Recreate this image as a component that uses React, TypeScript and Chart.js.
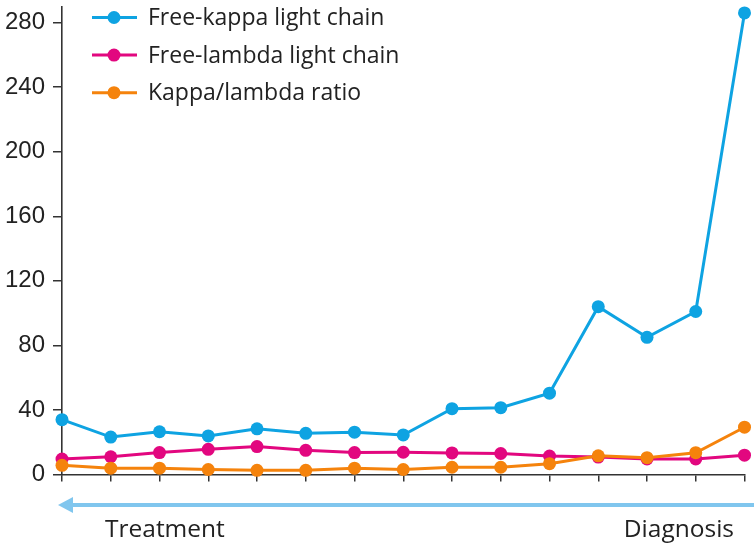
import React, { useEffect, useRef } from 'react';
import { Chart, registerables } from 'chart.js';

Chart.register(...registerables);

const timepoints = ['1', '2', '3', '4', '5', '6', '7', '8', '9', '10', '11', '12', '13', '14', '15'];
const freeKappa = [34, 23.2, 26.5, 23.9, 28.3, 25.5, 26.2, 24.5, 40.8, 41.4, 50.4, 104, 85, 101, 286];
const freeLambda = [9.6, 11.0, 13.6, 15.6, 17.3, 15.0, 13.6, 13.8, 13.4, 13.0, 11.4, 10.8, 9.6, 9.6, 12.0];
const kappaLambdaRatio = [5.7, 3.9, 3.9, 3.1, 2.6, 2.6, 3.9, 3.1, 4.5, 4.5, 6.7, 11.6, 10.4, 13.5, 29.3];
const yTickValues = [0, 40, 80, 120, 160, 200, 240, 280];
const seriesLabels = ['Free-kappa light chain', 'Free-lambda light chain', 'Kappa/lambda ratio'];
const seriesColors = ['#0ea3e2', '#e2077f', '#f5830c'];
const directionLabels = ['Treatment', 'Diagnosis'];

const TEXT_FONT = '"Open Sans", "Noto Sans", sans-serif';

const annotationPlugin = {
  id: 'annotations',
  afterDraw(chart: any) {
    const ctx = chart.ctx as CanvasRenderingContext2D;
    const area = chart.chartArea;
    ctx.save();
    // legend
    chart.data.datasets.forEach((ds: any, i: number) => {
      const y = 17.5 + i * 37.6;
      ctx.strokeStyle = ds.borderColor;
      ctx.lineWidth = 3;
      ctx.beginPath();
      ctx.moveTo(92, y);
      ctx.lineTo(137, y);
      ctx.stroke();
      ctx.fillStyle = ds.borderColor;
      ctx.beginPath();
      ctx.arc(114, y, 6.5, 0, Math.PI * 2);
      ctx.fill();
      ctx.fillStyle = '#222';
      ctx.font = `23px ${TEXT_FONT}`;
      ctx.textAlign = 'left';
      ctx.textBaseline = 'middle';
      ctx.fillText(ds.label, 148, y + 1);
    });
    // arrow
    const ay = 505;
    const arrowColor = '#80c6ee';
    ctx.strokeStyle = arrowColor;
    ctx.fillStyle = arrowColor;
    ctx.lineWidth = 4;
    ctx.beginPath();
    ctx.moveTo(70, ay);
    ctx.lineTo(chart.width, ay);
    ctx.stroke();
    ctx.beginPath();
    ctx.moveTo(area.left - 4, ay);
    ctx.lineTo(area.left + 11, ay - 8);
    ctx.lineTo(area.left + 11, ay + 8);
    ctx.closePath();
    ctx.fill();
    // direction labels
    ctx.fillStyle = '#222';
    ctx.font = `24.5px ${TEXT_FONT}`;
    ctx.textBaseline = 'alphabetic';
    ctx.textAlign = 'left';
    ctx.fillText(directionLabels[0], 105, 537);
    ctx.textAlign = 'right';
    ctx.fillText(directionLabels[1], 734, 537);
    ctx.restore();
  },
};

export default function App() {
  const canvasRef = useRef<HTMLCanvasElement | null>(null);

  useEffect(() => {
    document.body.style.margin = '0';
    const canvas = canvasRef.current;
    if (!canvas) return;
    const values = [freeKappa, freeLambda, kappaLambdaRatio];
    const orders = [1, 2, 0];
    const chart = new Chart(canvas, {
      type: 'line',
      data: {
        labels: timepoints,
        datasets: values.map((v, i) => ({
          label: seriesLabels[i],
          data: v,
          borderColor: seriesColors[i],
          backgroundColor: seriesColors[i],
          pointBackgroundColor: seriesColors[i],
          pointBorderWidth: 0,
          pointRadius: 6.5,
          borderWidth: 3,
          tension: 0,
          clip: false as any,
          order: orders[i],
        })),
      },
      options: {
        animation: false,
        responsive: false,
        maintainAspectRatio: false,
        layout: { padding: { left: 0, right: 9.5, top: 3, bottom: 64.5 } },
        plugins: {
          legend: { display: false },
          tooltip: { enabled: false },
        },
        scales: {
          x: {
            type: 'category',
            offset: false,
            ticks: { display: false },
            grid: {
              drawOnChartArea: false,
              drawTicks: true,
              tickLength: 7,
              color: '#333',
              lineWidth: 1.5,
            },
            border: { display: true, color: '#333', width: 1.6 },
            afterFit: (scale: any) => {
              scale.paddingLeft = 0;
              scale.paddingRight = 0;
            },
          },
          y: {
            min: 0,
            max: 290,
            afterBuildTicks: (scale: any) => {
              scale.ticks = yTickValues.map((v) => ({ value: v }));
            },
            afterFit: (scale: any) => {
              scale.width = 62;
              scale.paddingTop = 0;
              scale.paddingBottom = 0;
            },
            ticks: {
              padding: 8,
              color: '#222',
              font: { family: '"Liberation Sans", Arial, sans-serif', size: 24 },
            },
            grid: {
              drawOnChartArea: false,
              drawTicks: true,
              tickLength: 9,
              color: '#333',
              lineWidth: 1.5,
            },
            border: { display: true, color: '#333', width: 1.6 },
          },
        },
      },
      plugins: [annotationPlugin],
    });
    return () => chart.destroy();
  }, []);

  return (
    <div style={{ width: 754, height: 546 }}>
      <canvas ref={canvasRef} width={754} height={546} style={{ display: 'block' }} />
    </div>
  );
}
